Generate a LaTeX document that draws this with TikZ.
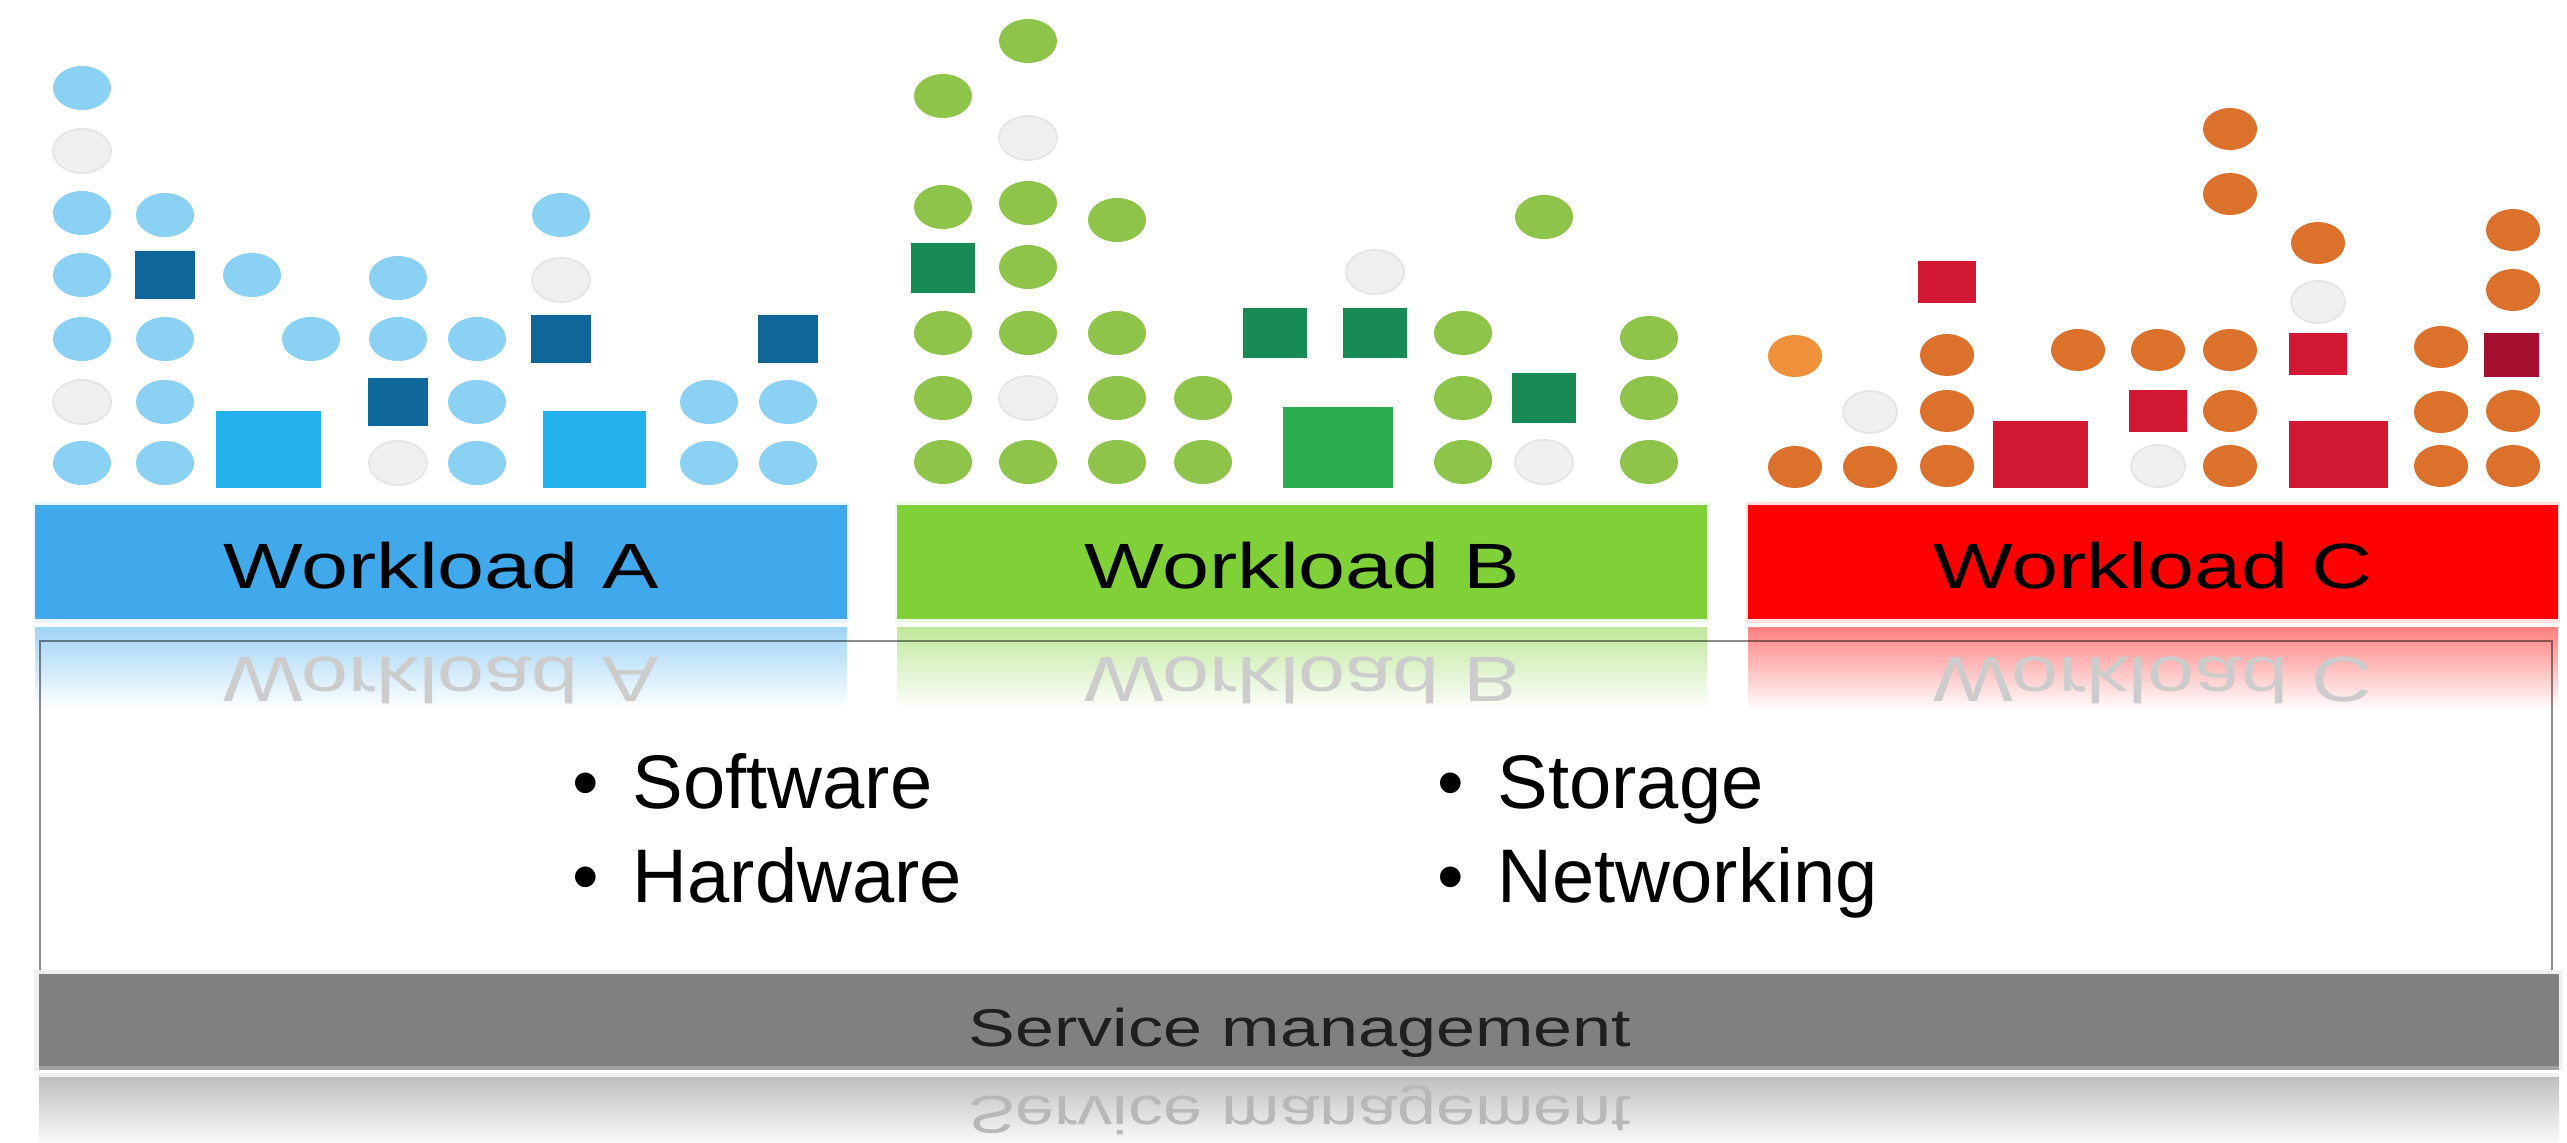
\documentclass[tikz,border=0pt]{standalone}
\usepackage{fontspec}
\setmainfont{Liberation Sans}
\usepackage{xcolor}
\usepackage{graphicx}
\usepackage{tikz}
\usetikzlibrary{positioning,calc}

\definecolor{barA}{RGB}{63,169,236}
\definecolor{barB}{RGB}{128,209,56}
\definecolor{barC}{RGB}{255,0,0}
\definecolor{dotA}{RGB}{139,209,243}
\definecolor{sqA}{RGB}{14,102,153}
\definecolor{bigA}{RGB}{35,178,235}
\definecolor{dotB}{RGB}{142,196,74}
\definecolor{sqB}{RGB}{24,138,85}
\definecolor{bigB}{RGB}{45,174,78}
\definecolor{dotC}{RGB}{219,113,42}
\definecolor{dotCl}{RGB}{239,145,58}
\definecolor{sqC}{RGB}{210,24,50}
\definecolor{sqCd}{RGB}{165,16,48}
\definecolor{idle}{RGB}{240,240,240}
\definecolor{mgmt}{RGB}{128,128,128}

\newcommand{\wide}[1]{\scalebox{1.32}[1]{#1}}
\newcommand{\flip}[1]{\scalebox{1.32}[-1]{#1}}
\newcommand{\itm}[1]{\llap{\textbullet\hspace{0.34cm}}#1}

\tikzset{
  dot/.style={x radius=0.29cm, y radius=0.22cm},
  sdot/.style={x radius=0.27cm, y radius=0.21cm},
  idledot/.style={fill=idle, draw=black!10, line width=0.5pt},
  wltext/.style={inner sep=0, anchor=base, font=\fontsize{18.2}{22}\selectfont},
  wlmirror/.style={wltext, text=black!20},
  smtext/.style={inner sep=0, anchor=base, text=black!88, font=\fontsize{15.1}{18}\selectfont},
  smmirror/.style={smtext, text=black!28},
  item/.style={inner sep=0, anchor=base west, font=\fontsize{21.6}{26}\selectfont},
}

\begin{document}
\begin{tikzpicture}[x=0.01cm, y=-0.01cm]
\fill[white] (0,0) rectangle (2567,1143);
\useasboundingbox (0,0) rectangle (2567,1143);

% workload A
\foreach \x/\y in {82/463,82/339,82/275,82/213,82/88,165/463,165/402,165/339,165/215,
  252/275,311/339,398/339,398/278,477/463,477/402,477/339,561/215,709/463,709/402,788/463,788/402}
  \fill[dotA] (\x,\y) ellipse [dot];
\foreach \x/\y in {82/402,82/151,398/463,561/280}
  \filldraw[idledot] (\x,\y) ellipse [dot];
\foreach \x/\y in {165/275,398/402,561/339,788/339}
  \fill[sqA] ({\x-30},{\y-24}) rectangle ({\x+30},{\y+24});
\fill[bigA] (216,411) rectangle (321,488);
\fill[bigA] (543,411) rectangle (646,488);

% workload B
\foreach \x/\y in {943/462,943/398,943/333,943/207,943/96,1028/462,1028/333,1028/267,1028/203,1028/41,
  1117/462,1117/398,1117/333,1117/220,1203/462,1203/398,1463/462,1463/398,1463/333,1544/217,
  1649/462,1649/398,1649/338}
  \fill[dotB] (\x,\y) ellipse [dot];
\foreach \x/\y in {1028/398,1028/138,1375/272,1544/462}
  \filldraw[idledot] (\x,\y) ellipse [dot];
\foreach \x/\y in {943/268,1275/333,1375/333,1544/398}
  \fill[sqB] ({\x-32},{\y-25}) rectangle ({\x+32},{\y+25});
\fill[bigB] (1283,407) rectangle (1393,488);

% workload C
\foreach \x/\y in {1795/467,1870/467,1947/355,1947/411,1947/466,2078/350,2158/350,2230/129,2230/194,
  2230/350,2230/411,2230/466,2318/243,2441/347,2441/412,2441/466,2513/230,2513/290,2513/411,2513/466}
  \fill[dotC] (\x,\y) ellipse [sdot];
\fill[dotCl] (1795,356) ellipse [sdot];
\foreach \x/\y in {1870/412,2158/466,2318/302}
  \filldraw[idledot] (\x,\y) ellipse [sdot];
\foreach \x/\y in {1947/282,2158/411,2318/354}
  \fill[sqC] ({\x-29},{\y-21}) rectangle ({\x+29},{\y+21});
\fill[sqCd] (2484,333) rectangle (2539,377);
\fill[sqC] (1993,421) rectangle (2088,488);
\fill[sqC] (2289,421) rectangle (2388,488);

% bars and their reflections
\foreach \c/\l/\r in {barA/35/847,barB/897/1707,barC/1748/2558}{
  \fill[\c!12] (\l-2,502) rectangle (\r+2,623);
  \fill[\c] (\l,505) rectangle (\r,619);
  \shade[top color=\c!50, bottom color=white] (\l,627) rectangle (\r,710);
}
\node[wltext] (wlA) at (441,588) {\wide{Workload A}};
\node[wltext] (wlB) at (1302,588) {\wide{Workload B}};
\node[wltext] (wlC) at (2153,588) {\wide{Workload C}};
\node[wlmirror] (wlAr) at (441,657) {\flip{Workload A}};
\node[wlmirror] (wlBr) at (1302,657) {\flip{Workload B}};
\node[wlmirror] (wlCr) at (2153,657) {\flip{Workload C}};

\draw[black, draw opacity=0.45, line width=0.57pt] (40,974) -- (40,641) -- (2552,641) -- (2552,974);

\node[item] (sw) at (632,808) {\itm{Software}};
\node[item] (hw) at (632,902) {\itm{Hardware}};
\node[item] (st) at (1497,808) {\itm{Storage}};
\node[item] (nw) at (1497,902) {\itm{Networking}};

% service management
\fill[idle] (34,970) rectangle (2563,1070);
\fill[mgmt] (39,974) rectangle (2559,1066);
\fill[black!37] (39,1066) rectangle (2559,1070);
\fill[black!6] (39,1073) rectangle (2559,1077);
\shade[top color=black!25, bottom color=black!2] (39,1077) rectangle (2559,1143);
\node[smtext] (sm) at (1300,1046) {\wide{Service management}};
\node[smmirror] (smr) at (1300,1096) {\flip{Service management}};
\end{tikzpicture}
\end{document}
